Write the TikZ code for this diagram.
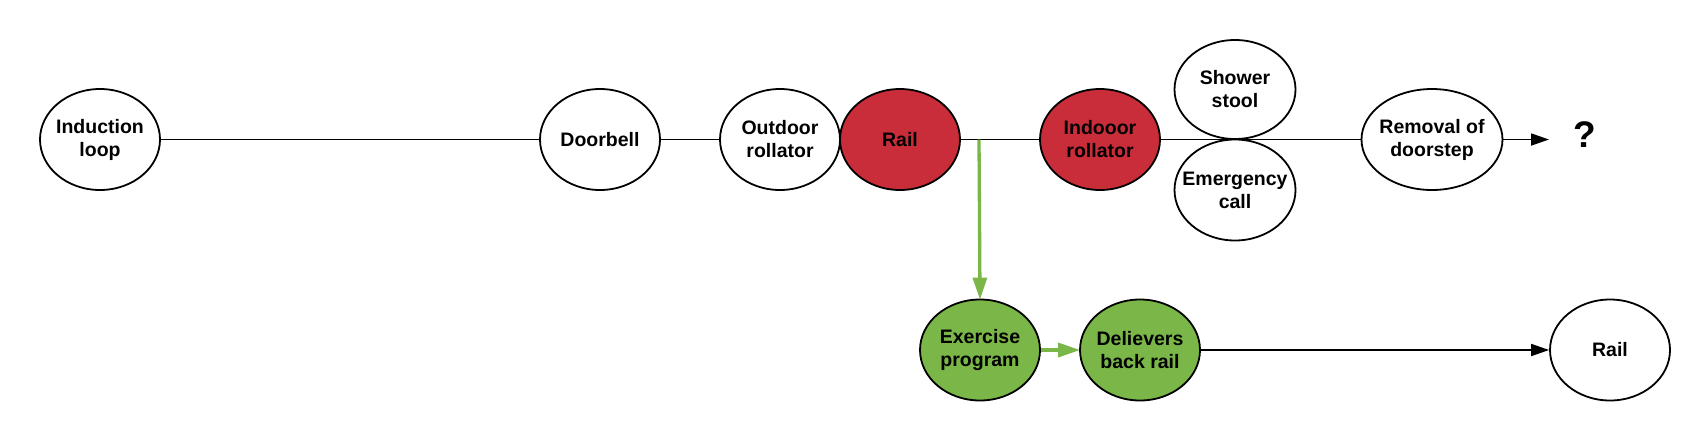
\documentclass[tikz,border=0pt]{standalone}
\usepackage{fontspec}
\setmainfont{Liberation Sans}
\usetikzlibrary{shapes.geometric,arrows.meta,backgrounds}
\definecolor{lucred}{HTML}{C92D39}
\definecolor{lucgreen}{HTML}{7AB648}
\tikzset{
  bub/.style={ellipse, draw=black, line width=1.8pt, fill=white, inner ysep=0pt, inner xsep=-14pt,
    minimum width=120pt, minimum height=101pt, align=center,
    font=\fontsize{19.5}{23}\selectfont\bfseries},
  redbub/.style={bub, fill=lucred},
  greenbub/.style={bub, fill=lucgreen},
  conn/.style={line width=1.8pt, draw=black},
  arr/.style={conn, -{Triangle[length=18pt,width=12pt]}},
  garr/.style={line width=3.3pt, draw=lucgreen, -{Triangle[length=22pt,width=14pt]}, shorten >=-1pt},
}
\begin{document}
\begin{tikzpicture}[x=1pt,y=-1pt]
\useasboundingbox (0,0) rectangle (1691,440);
\node[bub] (ind) at (100,139.5) {Induction\\loop};
\node[bub] (door) at (600,139.5) {Doorbell};
\node[bub] (out) at (780,139.5) {Outdoor\\rollator};
\node[redbub] (rail1) at (900,139.5) {Rail};
\node[redbub] (indoor) at (1100,139.5) {Indooor\\rollator};
\node[bub, minimum width=121pt, minimum height=99pt] (shower) at (1235,89.5) {Shower\\stool};
\node[bub, minimum width=121pt] (emerg) at (1235,190) {Emergency\\call};
\node[bub, minimum width=141pt] (removal) at (1432,139.5) {Removal of\\doorstep};
\node[font=\fontsize{37}{40}\selectfont\bfseries, inner sep=0pt] (q) at (1585,135) {?};
\coordinate (qa) at (1549,139.5);
\node[greenbub] (ex) at (980,350) {Exercise\\program};
\node[greenbub] (del) at (1140,350) {Delievers\\back rail};
\node[bub] (rail2) at (1610,350) {Rail};
\coordinate (g0) at (979,139.5);
\begin{pgfonlayer}{background}
\draw[conn] (ind.east) -- (door.west);
\draw[conn] (door.east) -- (out.west);
\draw[conn] (rail1.east) -- (indoor.west);
\draw[conn] (indoor.east) -- (removal.west);
\end{pgfonlayer}
\draw[arr] (removal.east) -- (qa);
\draw[garr] (g0) -- (ex.north);
\draw[garr] (ex.east) -- (del.west);
\draw[arr] (del.east) -- (rail2.west);
\end{tikzpicture}
\end{document}
